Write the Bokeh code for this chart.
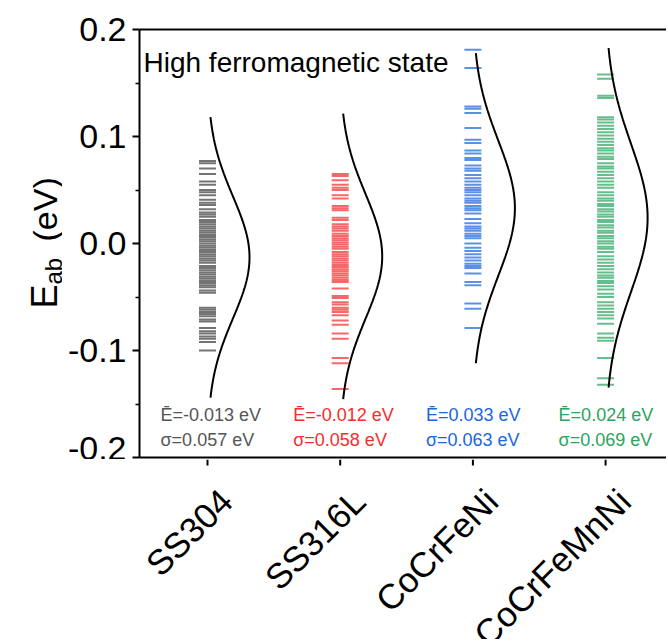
import math
import numpy as np
from bokeh.plotting import figure
from bokeh.layouts import gridplot
from bokeh.models import ColumnDataSource, FixedTicker, LinearAxis, Label, Range1d, PrintfTickFormatter
from bokeh.core.properties import value
from bokeh.embed import file_html
from bokeh.resources import INLINE

# ---------------- data ----------------
categories = ["SS304", "SS316L", "CoCrFeNi", "CoCrFeMnNi"]
cat_pos = [1, 2, 3, 4]
colors = ["#3f3f3f", "#f42d2d", "#1a66dd", "#2ca35f"]
text_colors = ["#555555", "#f42d2d", "#1a66dd", "#2ca35f"]
mean_E = [-0.013, -0.012, 0.033, 0.024]
sigma_E = [0.057, 0.058, 0.063, 0.069]

E_SS304 = [0.077, 0.075, 0.070, 0.065, 0.058, 0.055, 0.050, 0.048, 0.045, 0.041, 0.038, 0.036,
           0.032, 0.029, 0.027, 0.025, 0.022, 0.020, 0.018, 0.016, 0.014, 0.012, 0.010, 0.008,
           0.006, 0.004, 0.002, 0.000, -0.002, -0.004, -0.006, -0.008, -0.010, -0.012, -0.014,
           -0.016, -0.018, -0.021, -0.023, -0.025, -0.027, -0.029, -0.031, -0.033, -0.035, -0.037,
           -0.039, -0.041, -0.044, -0.046, -0.060, -0.062, -0.064, -0.066, -0.068, -0.071, -0.073,
           -0.079, -0.082, -0.084, -0.087, -0.089, -0.092, -0.100]
E_SS316L = [0.065, 0.063, 0.059, 0.055, 0.052, 0.050, 0.045, 0.042, 0.035, 0.033, 0.031, 0.024,
            0.022, 0.018, 0.016, 0.014, 0.012, 0.009, 0.007, 0.005, 0.003, 0.001, -0.001, -0.003,
            -0.005, -0.008, -0.010, -0.012, -0.014, -0.016, -0.018, -0.020, -0.022, -0.024, -0.026,
            -0.028, -0.030, -0.032, -0.034, -0.036, -0.042, -0.049, -0.051, -0.055, -0.057, -0.060,
            -0.062, -0.064, -0.067, -0.072, -0.076, -0.084, -0.089, -0.107, -0.112, -0.136]
E_CoCrFeNi = [0.181, 0.164, 0.128, 0.126, 0.122, 0.108, 0.097, 0.094, 0.087, 0.084, 0.080, 0.078,
              0.073, 0.070, 0.068, 0.064, 0.061, 0.058, 0.055, 0.052, 0.050, 0.048, 0.045, 0.042,
              0.040, 0.038, 0.035, 0.033, 0.031, 0.028, 0.023, 0.019, 0.016, 0.014, 0.012, 0.009,
              0.007, 0.005, 0.000, -0.004, -0.007, -0.010, -0.013, -0.016, -0.019, -0.021, -0.023,
              -0.028, -0.036, -0.039, -0.056, -0.061, -0.079]
E_CoCrFeMnNi = [0.158, 0.154, 0.138, 0.136, 0.118, 0.116, 0.113, 0.110, 0.107, 0.104, 0.101, 0.098,
                0.095, 0.092, 0.089, 0.087, 0.084, 0.081, 0.079, 0.075, 0.072, 0.070, 0.067, 0.064,
                0.061, 0.058, 0.055, 0.052, 0.048, 0.045, 0.042, 0.040, 0.037, 0.035, 0.032, 0.030,
                0.027, 0.025, 0.022, 0.020, 0.017, 0.015, 0.012, 0.010, 0.007, 0.005, 0.002, 0.000,
                -0.003, -0.005, -0.008, -0.012, -0.015, -0.018, -0.021, -0.024, -0.027, -0.030,
                -0.032, -0.035, -0.037, -0.040, -0.043, -0.047, -0.050, -0.055, -0.058, -0.061,
                -0.064, -0.067, -0.070, -0.075, -0.084, -0.088, -0.091, -0.107, -0.126, -0.132]
energies = [E_SS304, E_SS316L, E_CoCrFeNi, E_CoCrFeMnNi]

y_ticks = [-0.2, -0.1, 0.0, 0.1, 0.2]
y_minor = [-0.15, -0.05, 0.05, 0.15]
title_text = "High ferromagnetic state"
ylabel_parts = ["E", "ab", "(eV)"]

# ---------------- layout ----------------
TOTAL_W, TOTAL_H = 666, 639
LW = 62                               # width of the y-label strip
FL, FT, FH = 139, 29, 428             # frame left / top / height (page px)
PB = 2                                # main plot border below its frame
PH = FT + FH + PB                     # main plot height
SH = TOTAL_H - PH                     # category-label strip height
FW = TOTAL_W - FL
UNIT = 132.7                          # px per category
X0 = 1 - (207 - FL) / UNIT
X1 = X0 + FW / UNIT
Y0, Y1 = -0.2, 0.2

def px2x(px):
    return X0 + (px - FL) / FW * (X1 - X0)

def px2y(py):
    return Y1 - (py - FT) / FH * (Y1 - Y0)

FONT = "Liberation Sans"
xr = Range1d(X0, X1)

p = figure(width=TOTAL_W - LW, height=PH, x_range=xr, y_range=Range1d(Y0, Y1),
           output_backend="svg", toolbar_location=None,
           min_border_left=FL - LW, min_border_right=0, min_border_top=FT, min_border_bottom=PB)
p.xgrid.visible = False
p.ygrid.visible = False
p.outline_line_color = None

# bottom axis: line only (ticks + names drawn in the strip below)
p.xaxis.ticker = FixedTicker(ticks=[], minor_ticks=[])
p.xaxis.axis_line_width = 2
p.xaxis.major_tick_out = 0
p.xaxis.major_tick_in = 0
p.xaxis.minor_tick_out = 0
p.xaxis.minor_tick_in = 0
p.xaxis.major_label_standoff = 0

ya = p.yaxis[0]
ya.axis_line_width = 2
ya.major_tick_line_width = 2
ya.minor_tick_line_width = 1.5
ya.major_tick_out = 7
ya.major_tick_in = 0
ya.minor_tick_out = 4
ya.minor_tick_in = 0
ya.major_label_text_font = FONT
ya.major_label_text_color = "black"
ya.ticker = FixedTicker(ticks=y_ticks, minor_ticks=y_minor)
ya.formatter = PrintfTickFormatter(format="%.1f")
ya.major_label_text_font_size = "34px"
ya.major_label_standoff = 6

top = LinearAxis(ticker=FixedTicker(ticks=[], minor_ticks=[]), axis_line_width=2,
                 major_tick_out=0, major_tick_in=0, minor_tick_out=0, minor_tick_in=0,
                 major_label_standoff=0)
p.add_layout(top, "above")

# rug marks
hw = 0.064
xs0, xs1, ys, cs = [], [], [], []
for c, vals, col in zip(cat_pos, energies, colors):
    for v in vals:
        xs0.append(c - hw)
        xs1.append(c + hw)
        ys.append(v)
        cs.append(col)
rug = ColumnDataSource(dict(x0=xs0, x1=xs1, y=ys, color=cs))
p.segment(x0="x0", x1="x1", y0="y", y1="y", color="color", line_width=2, line_alpha=0.72, source=rug)

# fitted normal curves
amp = 42 / UNIT
for c, mu, sd in zip(cat_pos, mean_E, sigma_E):
    yy = np.linspace(mu - 2.3 * sd, mu + 2.3 * sd, 200)
    xx = c + amp * np.exp(-((yy - mu) ** 2) / (2 * sd ** 2))
    p.line(xx, yy, line_color="black", line_width=2)

# stats text
tx, t1, t2 = [], [], []
for c, mu, sd in zip(cat_pos, mean_E, sigma_E):
    tx.append(c - 47 / UNIT)
    t1.append(f"\u0112={mu:.3f} eV")
    t2.append(f"\u03c3={sd:.3f} eV")
src1 = ColumnDataSource(dict(x=tx, y=[px2y(414)] * 4, text=t1, color=text_colors))
src2 = ColumnDataSource(dict(x=tx, y=[px2y(439)] * 4, text=t2, color=text_colors))
for s in (src1, src2):
    p.text(x="x", y="y", text="text", text_color="color", source=s, text_font=value(FONT),
           text_font_size="18px", text_align="left", text_baseline="alphabetic")

p.add_layout(Label(x=px2x(143), y=px2y(62), text=title_text, text_font=FONT, text_font_size="28px",
                   text_color="black", text_baseline="alphabetic", text_align="left"))

# y-axis label strip: same vertical frame geometry as the main plot
lab = figure(width=LW, height=PH, x_range=Range1d(0, LW), y_range=Range1d(Y0, Y1),
             output_backend="svg", toolbar_location=None, x_axis_location=None, y_axis_location=None,
             min_border_left=0, min_border_right=0, min_border_top=FT, min_border_bottom=PB)
lab.xgrid.visible = False
lab.ygrid.visible = False
lab.outline_line_color = None
lab_x = [44, 53, 44]
lab_y = [px2y(308), px2y(284), px2y(241)]
lab_sizes = ["36px", "24px", "34px"]
for xx_, yy_, tt_, ss_ in zip(lab_x, lab_y, ylabel_parts, lab_sizes):
    lab.add_layout(Label(x=xx_, y=yy_, text=tt_, angle=math.pi / 2, text_font=FONT,
                         text_font_size=ss_, text_align="left", text_baseline="alphabetic",
                         text_color="black"))

# category strip under the plot: tick marks and rotated names on the shared x scale
strip = figure(width=TOTAL_W - LW, height=SH, x_range=xr, y_range=Range1d(SH, 0),
               output_backend="svg", toolbar_location=None, x_axis_location=None,
               y_axis_location=None, min_border_left=FL - LW, min_border_right=0,
               min_border_top=0, min_border_bottom=0)
strip.xgrid.visible = False
strip.ygrid.visible = False
strip.outline_line_color = None
strip.segment(x0=cat_pos, x1=cat_pos, y0=[0] * 4, y1=[6] * 4, line_color="black", line_width=2)
name_dx = 18.7 / UNIT
name_src = ColumnDataSource(dict(x=[c + name_dx for c in cat_pos], y=[494.7 - PH] * 4, text=categories))
strip.text(x="x", y="y", text="text", source=name_src, angle=math.pi / 4, text_font=value(FONT),
           text_font_size="35px", text_align="right", text_baseline="alphabetic", text_color="black")

grid = gridplot([[lab, p], [None, strip]], toolbar_location=None)
open("out.html", "w").write(file_html(grid, INLINE))
